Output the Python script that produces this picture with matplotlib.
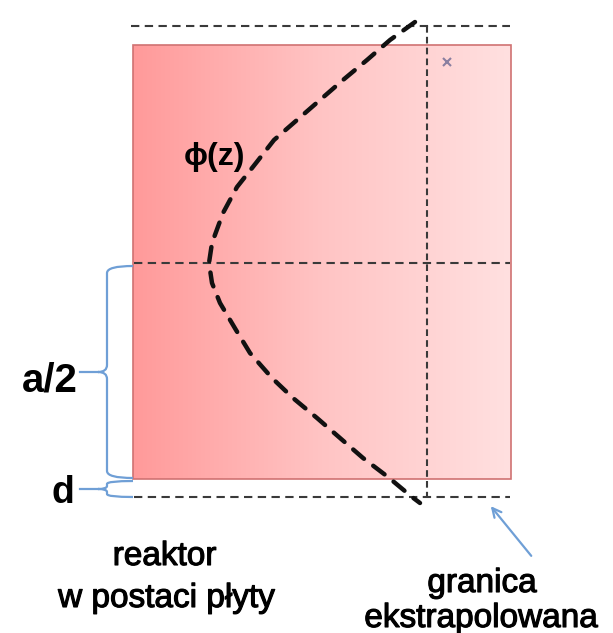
import numpy as np
import matplotlib
matplotlib.use("Agg")
import matplotlib.pyplot as plt
import matplotlib.patheffects as pe
from matplotlib.patches import FancyArrowPatch, PathPatch, Rectangle
from matplotlib.path import Path

# ---- picture geometry (pixel coordinates, y grows downwards) ----------------
# flux curve phi(z)
curve_y = [22, 40, 60, 80, 100, 120, 140, 163, 187, 213, 243, 263,
           283, 303, 330, 353, 378, 398, 418, 438, 458, 477, 497, 503]
curve_x = [415, 390, 367, 343, 320, 297, 274, 256, 237, 223, 212, 209,
           212, 220, 236, 250, 272, 293, 317, 340, 363, 388, 412, 420]

# reactor slab, extrapolated boundary lines
slab = (133, 45, 511, 479)  # x0, y0, x1, y1
guide_h = [(26, 131, 510), (263, 134, 510), (497, 134, 510)]  # y, x0, x1
guide_v = (427, 26, 497)  # x, y0, y1

phi_label = "ϕ(z)"
half_label = "a/2"
d_label = "d"
slab_lines = ["reaktor", "w postaci płyty"]
extrap_lines = ["granica", "ekstrapolowana"]

BLUE = "#6f9fd6"
DASH = "#3a3a3a"

plt.rcParams["font.family"] = ["Liberation Sans", "DejaVu Sans"]

fig = plt.figure(figsize=(6.13, 6.33), dpi=100)
ax = fig.add_axes([0, 0, 1, 1])
ax.set_xlim(0, 613)
ax.set_ylim(633, 0)
ax.axis("off")

# slab with left->right gradient
x0, y0, x1, y1 = slab
grad = np.linspace(0, 1, 256)[None, :]
cmap = matplotlib.colors.LinearSegmentedColormap.from_list(
    "slab", ["#ff9a9a", "#ffc4c4", "#ffe0e0"])
ax.imshow(grad, cmap=cmap, extent=(x0, x1, y1, y0), aspect="auto", zorder=1)
ax.add_patch(Rectangle((x0, y0), x1 - x0, y1 - y0, fill=False,
                       edgecolor="#d07272", lw=1.2, zorder=2))

# dashed guide lines
for y, xa, xb in guide_h:
    ax.plot([xa, xb], [y, y], color=DASH, lw=1.5, dashes=(4, 2.6), zorder=3)
gx, gya, gyb = guide_v
ax.plot([gx, gx], [gya, gyb], color=DASH, lw=1.5, dashes=(3.2, 2), zorder=3)

# flux curve
ax.plot(curve_x, curve_y, color="#111111", lw=3.2, dashes=(3.2, 2.6),
        solid_capstyle="round", dash_capstyle="round", zorder=4)

# small close mark in the corner
ax.plot([447], [62], marker="x", ms=6, mew=1.5, color="#8a7fa0", zorder=4)


def brace(y_top, y_bot, y_mid, x_spine=107, x_tip=98, x_end=133, r=7):
    verts = [
        (x_end, y_top), (x_spine, y_top), (x_spine, y_top + r),
        (x_spine, y_mid - r),
        (x_spine, y_mid), (x_tip, y_mid),
        (x_spine, y_mid), (x_spine, y_mid + r),
        (x_spine, y_bot - r),
        (x_spine, y_bot), (x_end, y_bot),
    ]
    codes = [Path.MOVETO, Path.CURVE3, Path.CURVE3, Path.LINETO,
             Path.CURVE3, Path.CURVE3, Path.CURVE3, Path.CURVE3,
             Path.LINETO, Path.CURVE3, Path.CURVE3]
    ax.add_patch(PathPatch(Path(verts, codes), fill=False, edgecolor=BLUE,
                           lw=1.6, zorder=3))
    ax.plot([80, x_tip], [y_mid, y_mid], color=BLUE, lw=1.6, zorder=3)


brace(266, 478, 372)
brace(481, 497, 489, r=3)

# arrow to the extrapolated boundary
ax.add_patch(FancyArrowPatch((533, 558), (489, 504), arrowstyle="->",
                             mutation_scale=16, color=BLUE, lw=1.6, zorder=3))

# labels
thick = [pe.withStroke(linewidth=0.8, foreground="black")]
ax.text(184, 157, phi_label, fontsize=23, fontweight="bold",
        ha="left", va="center", zorder=5)
ax.text(50, 380, half_label, fontsize=29, fontweight="bold",
        ha="center", va="center")
ax.text(63, 493, d_label, fontsize=27, fontweight="bold",
        ha="center", va="center")
ax.text(164.5, 565, slab_lines[0], fontsize=24, ha="center",
        va="baseline", path_effects=thick)
ax.text(166.5, 607, slab_lines[1], fontsize=24, ha="center",
        va="baseline", path_effects=thick)
ax.text(482, 592, extrap_lines[0], fontsize=24, ha="center",
        va="baseline", path_effects=thick)
ax.text(481, 627, extrap_lines[1], fontsize=24, ha="center",
        va="baseline", path_effects=thick)

fig.savefig("out.png", dpi=100)
